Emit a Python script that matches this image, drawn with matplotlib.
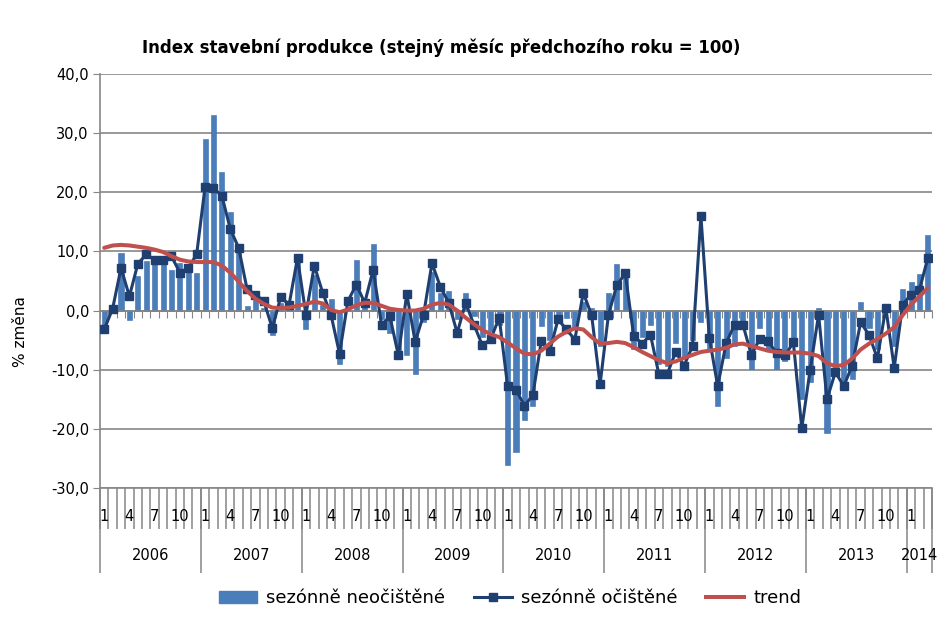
import numpy as np
import pandas as pd
import matplotlib
matplotlib.use("Agg")
import matplotlib.pyplot as plt
import matplotlib.transforms as mtransforms
from matplotlib.patches import Patch
from matplotlib.lines import Line2D
from matplotlib.ticker import FuncFormatter

# months Jan 2006 .. Mar 2014
months = pd.date_range("2006-01-01", "2014-03-01", freq="MS")

neocistene = [
    -2.5, 0.5, 9.8, -1.6, 5.9, 8.3, 7.8, 8.2, 6.9, 8.1, 6.5, 6.3,
    29.0, 33.1, 23.4, 16.7, 11.3, 0.8, 1.8, 0.5, -4.1, 1.2, 0.4, 9.5,
    -3.2, 6.0, 1.0, 1.9, -9.1, 0.5, 8.6, 1.0, 11.3, -1.5, -3.8, -7.0,
    -7.6, -10.8, -2.0, 6.5, 3.0, 3.3, -1.5, 3.0, -1.0, -4.5, -3.5, -2.5,
    -26.1, -24.0, -18.5, -16.2, -2.6, -5.0, -0.8, -1.2, -3.0, 1.5, 0.5, -6.0,
    3.0, 7.8, 6.5, -6.5, -4.5, -2.5, -9.0, -9.4, -5.5, -8.0, -5.0, -2.0,
    -6.5, -16.2, -8.0, -6.0, -2.0, -9.8, -2.9, -6.9, -9.8, -8.5, -5.0, -15.0,
    -12.0, 0.5, -20.7, -10.0, -12.0, -11.5, 1.4, -3.0, -6.5, 0.3, -6.0, 3.6,
    4.8, 6.1, 12.7,
]

ocistene = [
    -3.2, 0.3, 7.2, 2.4, 7.9, 9.5, 8.6, 8.6, 9.2, 6.4, 7.2, 9.5,
    20.9, 20.7, 19.4, 13.8, 10.6, 3.6, 2.7, 1.6, -3.0, 2.3, 1.0, 8.9,
    -0.7, 7.6, 3.0, -0.8, -7.3, 1.6, 4.4, 1.3, 6.9, -2.4, -1.0, -7.6,
    2.8, -5.3, -0.7, 8.0, 4.0, 1.3, -3.8, 1.3, -2.4, -5.9, -4.8, -1.2,
    -12.8, -13.4, -16.1, -14.3, -5.2, -6.9, -1.5, -3.2, -4.9, 3.0, -0.8, -12.5,
    -0.7, 4.3, 6.3, -4.3, -5.6, -4.1, -10.8, -10.7, -7.0, -9.3, -6.0, 16.0,
    -4.6, -12.8, -5.5, -2.4, -2.4, -7.5, -4.8, -5.2, -7.2, -7.6, -5.4, -19.9,
    -10.0, -0.7, -15.0, -10.4, -12.8, -9.3, -2.0, -4.1, -8.1, 0.5, -9.7, 1.0,
    2.7, 3.5, 8.9,
]

trend = [
    10.6, 11.0, 11.1, 11.0, 10.8, 10.6, 10.3, 9.9, 9.2, 8.6, 8.3, 8.2,
    8.2, 8.2, 7.6, 6.4, 4.9, 3.3, 2.0, 1.1, 0.5, 0.4, 0.5, 0.8,
    1.1, 1.5, 1.2, 0.1, -0.3, 0.2, 0.9, 1.3, 1.3, 0.8, 0.3, 0.1,
    0.0, 0.0, 0.3, 1.0, 1.3, 1.0, 0.0, -1.2, -2.3, -3.3, -4.0, -4.5,
    -5.4, -6.4, -7.3, -7.4, -6.8, -5.6, -4.4, -3.6, -3.0, -3.2, -4.5, -5.6,
    -5.5, -5.3, -5.5, -6.2, -7.0, -7.7, -8.4, -8.9, -8.6, -8.0, -7.5, -7.0,
    -6.8, -6.6, -6.3, -5.7, -5.6, -6.0, -6.4, -6.8, -7.0, -7.1, -7.1, -7.1,
    -7.3, -7.7, -8.9, -9.4, -9.2, -8.1, -6.6, -5.6, -4.8, -3.9, -2.8, -0.8,
    1.0, 2.4, 3.8,
]

month_labels = [1, 4, 7, 10]

bar_col = "#4A7EBB"
sa_col = "#1F3F70"
trend_col = "#C0504D"
grid_col = "#868686"

x = np.arange(len(months))

fig = plt.figure(figsize=(9.47, 6.18), dpi=100)
ax = fig.add_axes([0.1056, 0.2104, 0.8786, 0.6699])

ax.bar(x, neocistene, width=0.6, color=bar_col, edgecolor="#3A6DB0", linewidth=0.4, zorder=2)
ax.plot(x, ocistene, color=sa_col, linewidth=2.2, marker="s", markersize=5.8,
        markerfacecolor=sa_col, markeredgecolor=sa_col, zorder=3)
ax.plot(x, trend, color=trend_col, linewidth=2.9, solid_capstyle="round", zorder=4)

ax.set_xlim(-0.5, len(months) - 0.5)
ax.set_ylim(-30, 40)
ax.set_yticks(np.arange(-30, 41, 10))
ax.yaxis.set_major_formatter(FuncFormatter(lambda v, _: f"{v:.1f}".replace(".", ",")))
ax.yaxis.grid(True, color=grid_col, linewidth=1.2)
ax.set_axisbelow(True)
ax.tick_params(axis="y", length=5, color=grid_col, labelsize=10.5, pad=3)

for s in ["top", "right"]:
    ax.spines[s].set_visible(False)
ax.spines["left"].set_color(grid_col)
ax.spines["left"].set_linewidth(1.2)
ax.spines["bottom"].set_position(("data", 0))
ax.spines["bottom"].set_color(grid_col)
ax.spines["bottom"].set_linewidth(1.2)

bounds = np.arange(len(months) + 1) - 0.5
ax.set_xticks(bounds)
ax.tick_params(axis="x", direction="out", length=5, color=grid_col, labelbottom=False)

# multi-level category labels under the plot
trans = mtransforms.blended_transform_factory(ax.transData, ax.transAxes)
ax.plot([bounds[0], bounds[-1]], [0, 0], transform=trans, color=grid_col, lw=1.2, clip_on=False)
year_start = [i for i, m in enumerate(months) if m.month == 1]
year_bounds = [bounds[i] for i in year_start] + [bounds[-1]]
ax.vlines(bounds, -0.10, 0, transform=trans, colors=grid_col, lw=1.1, clip_on=False)
ax.vlines(year_bounds, -0.205, 0, transform=trans, colors=grid_col, lw=1.1, clip_on=False)

for i, m in enumerate(months):
    if m.month in month_labels:
        ax.text(i, -0.07, str(m.month), transform=trans, ha="center", va="center", fontsize=10.5)
for a, b in zip(year_bounds[:-1], year_bounds[1:]):
    yr = months[int(a + 0.5)].year
    ax.text((a + b) / 2, -0.163, str(yr), transform=trans, ha="center", va="center", fontsize=10.5)

ax.set_ylabel("% změna", fontsize=11)
ax.yaxis.set_label_coords(-0.086, 0.377)

fig.text(0.466, 0.922, "Index stavební produkce (stejný měsíc předchozího roku = 100)",
         ha="center", va="center", fontsize=12, fontweight="bold")

handles = [
    Patch(facecolor=bar_col, edgecolor=bar_col),
    Line2D([], [], color=sa_col, lw=2.2, marker="s", markersize=5.8),
    Line2D([], [], color=trend_col, lw=2.9),
]
fig.legend(handles, ["sezónně neočištěné", "sezónně očištěné", "trend"], loc="center",
           bbox_to_anchor=(0.5385, 0.032), ncol=3, frameon=False, fontsize=13,
           handlelength=2.1, columnspacing=1.6, handletextpad=0.5)

fig.savefig("out.png", dpi=100)
